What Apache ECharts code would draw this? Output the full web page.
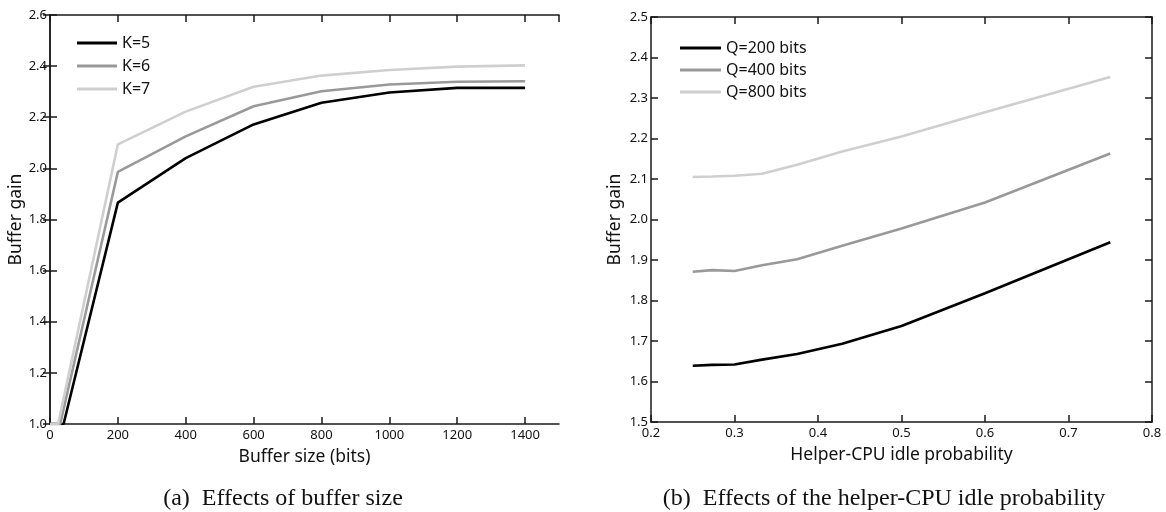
<!DOCTYPE html>
<html>
<head>
<meta charset="utf-8">
<script src="https://cdn.jsdelivr.net/npm/echarts@6/dist/echarts.min.js"></script>
<style>
html,body{margin:0;padding:0;background:#fff;}
#c{width:1166px;height:512px;}
</style>
</head>
<body>
<div id="c"></div>
<script>
// ---- Data: chart (a) ----
const bufferSizes = [200, 400, 600, 800, 1000, 1200, 1400];
const kNames = ['K=5', 'K=6', 'K=7'];
const kStartSize = [40, 30, 24];           // buffer size where gain leaves 1.0
const gainK5 = [1.866, 2.040, 2.172, 2.257, 2.297, 2.315, 2.315];
const gainK6 = [1.986, 2.125, 2.243, 2.302, 2.328, 2.339, 2.341];
const gainK7 = [2.094, 2.222, 2.319, 2.363, 2.385, 2.398, 2.403];

// ---- Data: chart (b) ----
const idleProb = [0.25, 0.273, 0.3, 0.333, 0.375, 0.429, 0.5, 0.6, 0.75];
const qNames = ['Q=200 bits', 'Q=400 bits', 'Q=800 bits'];
const gainQ200 = [1.639, 1.641, 1.642, 1.654, 1.668, 1.693, 1.737, 1.818, 1.944];
const gainQ400 = [1.871, 1.875, 1.873, 1.887, 1.902, 1.935, 1.978, 2.042, 2.163];
const gainQ800 = [2.105, 2.106, 2.108, 2.113, 2.135, 2.168, 2.205, 2.265, 2.352];

const colors = ['#000000', '#999999', '#cfcfcf'];
const FONT = 'Noto Sans';
const AX = '#1a1a1a';

function leftData(start, gains) {
  return [[0, 1.0], [start, 1.0]].concat(bufferSizes.map((x, i) => [x, gains[i]]));
}
function rightData(gains) {
  return idleProb.map((x, i) => [x, gains[i]]);
}

const kGains = [gainK5, gainK6, gainK7];
const qGains = [gainQ200, gainQ400, gainQ800];

const tickIn = { show: true, inside: true, length: 7, lineStyle: { color: AX, width: 1.5 } };
const axLine = { show: true, lineStyle: { color: AX, width: 1.5 } };
const lbl = { color: '#111', fontFamily: FONT, fontSize: 13 };
const nameStyle = { fontFamily: FONT, fontSize: 17.5, color: '#111' };

const option = {
  animation: false,
  backgroundColor: '#fff',
  grid: [
    { left: 50, top: 15, width: 509, height: 409 },
    { left: 651, top: 17, width: 501, height: 405 }
  ],
  xAxis: [
    { type: 'value', gridIndex: 0, min: 0, max: 1500, interval: 200, position: 'bottom',
      axisLine: axLine, axisTick: tickIn, splitLine: { show: false },
      axisLabel: Object.assign({ margin: 5, showMaxLabel: false, formatter: v => String(v) }, lbl),
      name: 'Buffer size (bits)', nameLocation: 'middle', nameGap: 24, nameTextStyle: nameStyle },
    { type: 'value', gridIndex: 0, min: 0, max: 1500, interval: 200, position: 'top',
      axisLine: axLine, axisTick: tickIn, splitLine: { show: false }, axisLabel: { show: false } },
    { type: 'value', gridIndex: 1, min: 0.2, max: 0.8, interval: 0.1, position: 'bottom',
      axisLine: axLine, axisTick: tickIn, splitLine: { show: false },
      axisLabel: Object.assign({ margin: 5, formatter: v => v.toFixed(1) }, lbl),
      name: 'Helper-CPU idle probability', nameLocation: 'middle', nameGap: 24, nameTextStyle: nameStyle },
    { type: 'value', gridIndex: 1, min: 0.2, max: 0.8, interval: 0.1, position: 'top',
      axisLine: axLine, axisTick: tickIn, splitLine: { show: false }, axisLabel: { show: false } }
  ],
  yAxis: [
    { type: 'value', gridIndex: 0, min: 1.0, max: 2.6, interval: 0.2, position: 'left',
      axisLine: axLine, axisTick: tickIn, splitLine: { show: false },
      axisLabel: Object.assign({ margin: 3, formatter: v => v.toFixed(1) }, lbl),
      name: 'Buffer gain', nameLocation: 'middle', nameGap: 25, nameTextStyle: nameStyle },
    { type: 'value', gridIndex: 0, min: 1.0, max: 2.6, interval: 0.2, position: 'right',
      axisLine: axLine, axisTick: tickIn, splitLine: { show: false }, axisLabel: { show: false } },
    { type: 'value', gridIndex: 1, min: 1.5, max: 2.5, interval: 0.1, position: 'left',
      axisLine: axLine, axisTick: tickIn, splitLine: { show: false },
      axisLabel: Object.assign({ margin: 3, formatter: v => v.toFixed(1) }, lbl),
      name: 'Buffer gain', nameLocation: 'middle', nameGap: 27, nameTextStyle: nameStyle },
    { type: 'value', gridIndex: 1, min: 1.5, max: 2.5, interval: 0.1, position: 'right',
      axisLine: axLine, axisTick: tickIn, splitLine: { show: false }, axisLabel: { show: false } }
  ],
  legend: [
    { data: kNames, orient: 'vertical', left: 72, top: 30, icon: 'rect', itemWidth: 40, itemHeight: 3,
      itemGap: 7, textStyle: { fontFamily: FONT, fontSize: 16, color: '#111', lineHeight: 16 } },
    { data: qNames, orient: 'vertical', left: 675, top: 35, icon: 'rect', itemWidth: 41, itemHeight: 3,
      itemGap: 6, textStyle: { fontFamily: FONT, fontSize: 16, color: '#111', lineHeight: 16 } }
  ],
  graphic: [
    { type: 'text', x: 283, y: 499, style: { text: '(a)  Effects of buffer size', font: '24px "Liberation Serif"', fill: '#111', textAlign: 'center', textVerticalAlign: 'middle' } },
    { type: 'text', x: 884, y: 499, style: { text: '(b)  Effects of the helper-CPU idle probability', font: '24px "Liberation Serif"', fill: '#111', textAlign: 'center', textVerticalAlign: 'middle' } }
  ],
  series: []
};

kNames.forEach((n, i) => {
  option.series.push({ name: n, type: 'line', xAxisIndex: 0, yAxisIndex: 0, symbol: 'none',
    data: leftData(kStartSize[i], kGains[i]), color: colors[i],
    lineStyle: { color: colors[i], width: 2.6 } });
});
qNames.forEach((n, i) => {
  option.series.push({ name: n, type: 'line', xAxisIndex: 2, yAxisIndex: 2, symbol: 'none',
    data: rightData(qGains[i]), color: colors[i],
    lineStyle: { color: colors[i], width: 2.6 } });
});

const chart = echarts.init(document.getElementById('c'), null, { renderer: 'canvas' });
chart.setOption(option);
</script>
</body>
</html>
